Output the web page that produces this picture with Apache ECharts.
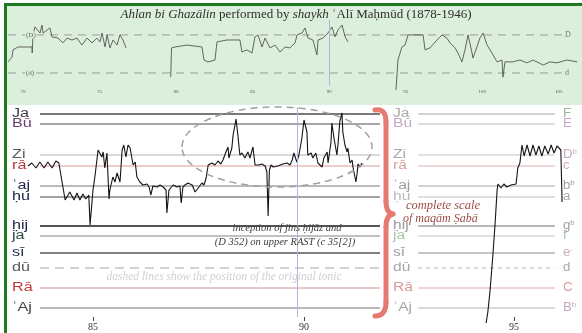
<!DOCTYPE html>
<html><head><meta charset="utf-8">
<script src="https://cdn.jsdelivr.net/npm/echarts@6/dist/echarts.min.js"></script>
<style>html,body{margin:0;padding:0;background:#fff}#c{width:582px;height:333px}</style>
</head><body><div id="c"></div>
<script>
// ---------- DATA ----------
const pitchNames   = ['Ja','Bū','Zi','rā','ʿaj','ḥu','ḥij','ja','sī','dū','Rā','ʿAj'];
const pitchValues  = [15.4, 14.4, 11.3, 10.2, 8.2, 7.1, 4.2, 3.2, 1.5, 0, -2, -4]; // semitones above tonic d
const westernNames = ['F','E','D{s|b}','c','b{s|b}','a','g{s|b}','f','e{s|-}','d','C','B{s|b}'];
const mainTicks = [85, 90];
const rightTicks = [95];
const overviewTicks = [70, 75, 80, 85, 90, 95, 100, 105];
const overviewRefValues = [12, 0];
const overviewRefNames = ['D', 'd'];
const overviewRefLeft = ['(D)', '(d)'];
const cursorMain = 89.83;
const cursorOverview = 90;

const curveMain = [[83.46,10.2],[83.55,10.5],[83.65,10.0],[83.74,10.6],[83.84,10.0],[83.93,10.6],[84.03,10.0],[84.12,10.7],[84.19,10.5],[84.34,6.8],[84.38,7.0],[84.45,7.6],[84.55,6.8],[84.62,7.5],[84.69,6.8],[84.76,7.4],[84.83,6.9],[84.90,7.3],[84.93,4.3],[84.98,6.8],[85.00,7.8],[85.05,9.3],[85.12,11.8],[85.14,12.0],[85.21,11.1],[85.24,11.6],[85.28,10.0],[85.33,11.5],[85.38,6.9],[85.40,7.8],[85.47,9.1],[85.52,8.6],[85.57,9.5],[85.64,8.6],[85.69,11.8],[85.73,12.3],[85.78,11.1],[85.83,12.3],[85.88,12.0],[85.95,10.3],[86.00,10.6],[86.04,9.1],[86.11,8.6],[86.18,8.3],[86.28,8.4],[86.33,8.1],[86.37,7.3],[86.42,8.2],[86.52,8.1],[86.59,8.3],[86.66,8.1],[86.73,7.8],[86.75,5.5],[86.80,7.8],[86.90,8.3],[86.99,8.1],[87.06,8.2],[87.09,6.5],[87.13,8.1],[87.18,8.3],[87.25,8.5],[87.35,8.3],[87.42,7.6],[87.51,8.1],[87.58,8.5],[87.63,8.3],[87.68,9.0],[87.73,10.3],[87.82,10.5],[87.89,10.3],[87.96,10.7],[88.03,10.4],[88.08,10.8],[88.15,11.6],[88.20,12.1],[88.22,11.0],[88.29,12.0],[88.32,13.3],[88.39,14.9],[88.44,13.0],[88.48,11.3],[88.53,11.5],[88.60,11.0],[88.67,11.6],[88.72,11.0],[88.79,12.1],[88.84,10.3],[88.93,10.3],[89.00,10.4],[89.08,10.2],[89.12,9.6],[89.15,5.2],[89.18,9.8],[89.22,10.3],[89.27,10.1],[89.38,10.2],[89.50,10.4],[89.60,10.5],[89.67,10.3],[89.72,10.8],[89.76,11.5],[89.83,10.6],[89.88,11.3],[89.95,13.0],[90.00,14.8],[90.07,13.6],[90.09,11.3],[90.17,11.5],[90.21,11.0],[90.28,11.5],[90.33,10.5],[90.43,10.1],[90.47,11.0],[90.55,11.6],[90.57,10.5],[90.64,12.6],[90.66,14.5],[90.71,13.0],[90.78,11.3],[90.81,12.6],[90.85,14.7],[90.90,15.5],[90.92,13.6],[90.97,12.3],[91.02,11.6],[91.04,12.0],[91.09,10.5],[91.14,10.8],[91.16,10.1],[91.23,8.6],[91.26,9.5],[91.28,10.4],[91.33,10.1],[91.37,10.5]];

const curveRight = [[94.34,-5.5],[94.38,-4.4],[94.43,-2.4],[94.50,1.3],[94.55,4.3],[94.60,7.8],[94.62,8.4],[94.69,8.0],[94.76,8.4],[94.83,8.1],[94.93,8.3],[95.05,8.4],[95.09,10.0],[95.14,10.5],[95.19,12.3],[95.24,11.2],[95.31,12.3],[95.38,11.2],[95.45,12.3],[95.52,11.3],[95.59,12.2],[95.66,11.2],[95.73,12.2],[95.81,11.4],[95.88,12.3],[95.95,11.5],[96.02,12.2],[96.11,11.8],[96.14,6.6]];

const overviewSeg1 = [[69.02,3.5],[69.28,5.0],[69.35,7.3],[69.67,8.2],[70.59,8.2],[70.60,6.3],[70.65,12.0],[70.78,14.5],[71.11,12.6],[71.24,15.1],[71.31,12.6],[71.76,14.2],[71.89,11.4],[72.29,11.0],[72.61,9.5],[72.87,11.0],[73.20,10.4],[73.53,11.0],[73.85,8.8],[74.18,11.0],[74.51,9.5],[74.83,11.0],[75.03,9.8],[75.16,12.6],[75.36,8.2],[75.49,12.0],[75.68,7.9],[75.88,10.4],[76.14,8.8],[76.33,12.0],[76.53,10.4],[76.73,7.9]];
const overviewSeg2 = [[79.65,-1.3],[79.70,7.9],[79.93,8.2],[80.71,8.8],[81.69,8.2],[81.82,4.1],[82.08,3.5],[82.54,4.1],[82.67,9.8],[83.32,10.4],[84.17,10.4],[84.30,6.6],[84.63,7.3],[84.96,6.3],[85.15,11.4],[85.35,12.0],[85.61,8.2],[85.81,11.0],[86.13,7.9],[86.46,8.8],[86.79,6.6],[87.12,8.2],[87.44,7.9],[87.77,9.5],[87.90,12.0],[88.22,12.6],[88.42,14.2],[88.62,11.0],[88.94,10.4],[89.20,5.7],[89.27,10.4],[89.60,11.0],[89.92,12.6],[90.18,14.5],[90.38,11.4],[90.58,13.6],[90.84,15.1],[91.04,11.4],[91.23,9.8]];
const overviewSeg3 = [[94.36,-5.4],[94.49,4.1],[94.75,8.2],[94.95,8.8],[95.15,12.0],[96.13,12.0],[96.26,7.3],[96.58,7.9],[97.04,10.4],[97.37,12.0],[97.69,11.0],[97.89,9.5],[98.22,7.9],[98.41,6.3],[98.67,3.5],[98.87,7.3],[99.07,12.0],[99.33,6.3],[99.39,4.7],[99.65,8.2],[99.84,11.0],[100.05,12.6],[100.31,8.8],[100.63,6.3],[100.96,3.5],[101.29,4.1],[101.35,-1.3],[101.48,3.5],[102.00,3.5],[102.46,4.1],[102.92,3.2],[103.31,4.1],[103.97,2.5],[104.42,3.5],[104.88,3.2],[105.53,4.1],[106.20,3.5]];

// ---------- STYLE / LAYOUT ----------
const mainLineColors = ['#4d4d4d','#aaa3aa','#b4b4b4','#d99a9a','#a3a3a3','#858585','#555555','#acacac','#555555','#c4c4c4','#d98f8f','#a0a0a0'];
const mainLineWidths = [1.6,1.8,1.2,1.2,1.5,1.5,2,1.5,1.6,1.5,1.2,1.4];
const mainLabelColors = ['#3b3b48','#6e3f70','#5a5a5a','#b83a3a','#222a4e','#222a4e','#222a4e','#2b4a48','#222a4e','#5a5a5a','#c23a3a','#454545'];
const rightLineColors = ['#a8a8a8','#c4b8c4','#c4c4c4','#e0b0b0','#a8a8a8','#c0c0c0','#a0a0a0','#c4c4c4','#8c8c8c','#c4c4c4','#deaaaa','#b4b4b4'];
const rightLeftColors = ['#a8aaa8','#c4a8c4','#a8a8a8','#d8a0a0','#9c9c9c','#bcbcbc','#9c9c9c','#a8c4a8','#9c9c9c','#a8a8a8','#d89a9a','#a8a8a8'];
const rightRightColors = ['#a0b4a0','#c8a8c8','#c8a8c0','#d8a8a8','#a0a0a0','#a8a8a8','#a0a0a0','#a8c8a8','#c8b0c0','#a8a8a8','#d89a9a','#c4a8c0'];
const dashedIndex = 9;
const mainLineSpan = [83.744, 91.80];
const rightLineSpan = [92.73, 95.97];
const overviewRefSpan = [69.02, 105.2];

const chart = echarts.init(document.getElementById('c'), null, {renderer:'canvas', width:582, height:333});

const hiddenY = (idx, min, max) => ({gridIndex: idx, type:'value', min, max, show:false});
const series = [];

overviewRefValues.forEach((v, i) => {
  series.push({type:'line', xAxisIndex:0, yAxisIndex:0, silent:true, showSymbol:false, z:1,
    data:[[overviewRefSpan[0], v],[overviewRefSpan[1], v]],
    lineStyle:{color:'#9a9a9a', width:1, type:[8,6]},
    endLabel:{show:true, formatter: overviewRefNames[i], color:'#777', fontSize:8, distance:3, fontFamily:'Liberation Serif'}});
});
[overviewSeg1, overviewSeg2, overviewSeg3].forEach((seg, k) => {
  const s = {type:'line', xAxisIndex:0, yAxisIndex:0, silent:true, showSymbol:false, clip:false, z:3,
    data: seg, lineStyle:{color:'#555555', width:0.9}};
  if (k === 1) s.markLine = {silent:true, symbol:'none', label:{show:false}, lineStyle:{color:'#a9b9d9', width:1, type:'solid'}, data:[{xAxis: cursorOverview}]};
  series.push(s);
});
pitchValues.forEach((v, i) => {
  series.push({type:'line', xAxisIndex:1, yAxisIndex:1, silent:true, showSymbol:false, z:1,
    data:[[mainLineSpan[0], v],[mainLineSpan[1], v]],
    lineStyle:{color: mainLineColors[i], width: mainLineWidths[i], type: i === dashedIndex ? [9,6] : 'solid'}});
  series.push({type:'line', xAxisIndex:2, yAxisIndex:2, silent:true, showSymbol:false, z:1,
    data:[[rightLineSpan[0], v],[rightLineSpan[1], v]],
    lineStyle:{color: rightLineColors[i], width: i === 6 ? 1.6 : 1.2, type: i === dashedIndex ? [4,4] : 'solid'}});
});
series.push({type:'line', xAxisIndex:1, yAxisIndex:1, silent:true, showSymbol:false, clip:false, z:4,
  data: curveMain, lineStyle:{color:'#141414', width:1.1},
  markLine:{silent:true, symbol:'none', label:{show:false}, lineStyle:{color:'#a9b9d9', width:1, type:'solid'}, data:[{xAxis: cursorMain}]}});
series.push({type:'line', xAxisIndex:2, yAxisIndex:2, silent:true, showSymbol:false, clip:false, z:4,
  data: curveRight, lineStyle:{color:'#141414', width:1.1}});

const option = {
  animation:false,
  backgroundColor:'#ffffff',
  grid:[
    {left:8, top:20, width:570, height:66},
    {left:10, top:107, width:370, height:210},
    {left:395, top:107, width:183, height:210}
  ],
  xAxis:[
    {gridIndex:0, type:'value', position:'bottom', min:69.02, max:106.25, splitLine:{show:false}, axisLine:{show:false, onZero:false}, axisTick:{show:false},
     axisLabel:{customValues: overviewTicks, fontSize:5, color:'#555', margin:3, fontFamily:'Liberation Serif'}},
    {gridIndex:1, type:'value', position:'bottom', min:83.033, max:91.801, splitLine:{show:false}, axisLine:{show:false, onZero:false},
     axisTick:{show:true, customValues: mainTicks, length:4, lineStyle:{color:'#444', width:1}},
     axisLabel:{customValues: mainTicks, fontSize:10, color:'#333', margin:5, fontFamily:'Liberation Serif'}},
    {gridIndex:2, type:'value', position:'bottom', min:92.18, max:96.517, splitLine:{show:false}, axisLine:{show:false, onZero:false},
     axisTick:{show:true, customValues: rightTicks, length:4, lineStyle:{color:'#444', width:1}},
     axisLabel:{customValues: rightTicks, fontSize:10, color:'#333', margin:5, fontFamily:'Liberation Serif'}}
  ],
  yAxis:[hiddenY(0,-4.1,16.7), hiddenY(1,-4.9,16.1), hiddenY(2,-4.9,16.1)],
  series
};
chart.setOption(option);

// ---------- decorations & labels ----------
const els = [];
els.push({type:'rect', z:-5, silent:true, shape:{x:7,y:6,width:575,height:99}, style:{fill:'#dcefdc'}});
els.push({type:'rect', z:50, silent:true, shape:{x:4,y:3,width:578,height:3}, style:{fill:'#1e7a1e'}});
els.push({type:'rect', z:50, silent:true, shape:{x:4,y:3,width:3,height:330}, style:{fill:'#1e7a1e'}});
els.push({type:'ellipse', z:10, silent:true, shape:{cx:277, cy:147, rx:95, ry:40}, style:{fill:null, stroke:'#a0a0a0', lineWidth:1.5, lineDash:[7,5]}});
const braceStyle = {stroke:'#e57a72', lineWidth:5, fill:null, lineCap:'round'};
els.push({type:'bezierCurve', z:10, silent:true, shape:{x1:375,y1:110,cpx1:386,cpy1:108,x2:386,y2:122}, style:braceStyle});
els.push({type:'line', z:10, silent:true, shape:{x1:386,y1:122,x2:386,y2:201}, style:braceStyle});
els.push({type:'bezierCurve', z:10, silent:true, shape:{x1:386,y1:201,cpx1:386,cpy1:213,x2:393,y2:214}, style:braceStyle});
els.push({type:'bezierCurve', z:10, silent:true, shape:{x1:393,y1:214,cpx1:386,cpy1:215,x2:386,y2:227}, style:braceStyle});
els.push({type:'line', z:10, silent:true, shape:{x1:386,y1:227,x2:386,y2:302}, style:braceStyle});
els.push({type:'bezierCurve', z:10, silent:true, shape:{x1:386,y1:302,cpx1:386,cpy1:316,x2:375,y2:316}, style:braceStyle});

function txt(x, y, text, opts) {
  const st = Object.assign({text, fill:'#333', font:'12px "Liberation Sans"', textAlign:'left', align:'left', textVerticalAlign:'middle', verticalAlign:'middle'}, opts.style || {});
  if (st.textAlign) st.align = st.textAlign;
  return {type:'text', x, y, z:60, silent:true, scaleX: opts.scaleX || 1, style: st};
}
els.push(txt(296, 15, '{i|Ahlan bi Ghazālin} performed by {i|shaykh} ʿAlī Maḥmūd (1878-1946)', {style:{
  font:'13px "Liberation Serif"', fill:'#2e2e2e', textAlign:'center',
  rich:{i:{fontStyle:'italic', fontFamily:'Liberation Serif', fontSize:13, fill:'#2e2e2e'}}}}));
els.push(txt(287, 228, 'inception of jins ḥijāz and', {style:{font:'italic 10.5px "Liberation Serif"', fill:'#3a3a3a', textAlign:'center'}}));
els.push(txt(285, 242, '(D 352) on upper RAST (c 35[2])', {style:{font:'italic 10.5px "Liberation Serif"', fill:'#3a3a3a', textAlign:'center'}}));
els.push(txt(224, 277, 'dashed lines show the position of the original tonic', {style:{font:'italic 11.5px "Liberation Serif"', fill:'#d0d0d0', textAlign:'center'}}));
els.push(txt(406, 206, 'complete scale', {style:{font:'italic 12.5px "Liberation Serif"', fill:'#9c4c46'}}));
els.push(txt(403, 219, 'of maqām Ṣabā', {style:{font:'italic 12px "Liberation Serif"', fill:'#9c4c46'}}));

overviewRefValues.forEach((v, i) => {
  const p = chart.convertToPixel({gridIndex:0}, [70, v]);
  els.push(txt(25, p[1], overviewRefLeft[i], {style:{font:'7px "Liberation Serif"', fill:'#666', backgroundColor:'#dcefdc', padding:[0,1]}}));
});
pitchValues.forEach((v, i) => {
  const y = chart.convertToPixel({gridIndex:1}, [85, v])[1];
  els.push(txt(12, y, pitchNames[i], {scaleX:1.35, style:{font:'12px "Liberation Sans"', fill: mainLabelColors[i]}}));
  els.push(txt(393, y, pitchNames[i], {scaleX:1.3, style:{font:'12px "Liberation Sans"', fill: rightLeftColors[i]}}));
  els.push(txt(563, y, westernNames[i], {scaleX:1.1, style:{font:'12px "Liberation Sans"', fill: rightRightColors[i],
    rich:{s:{fontSize:7, fontFamily:'Liberation Sans', fill: rightRightColors[i], verticalAlign:'top'}}}}));
});
chart.setOption({graphic:{elements: els}});
</script>
</body></html>
